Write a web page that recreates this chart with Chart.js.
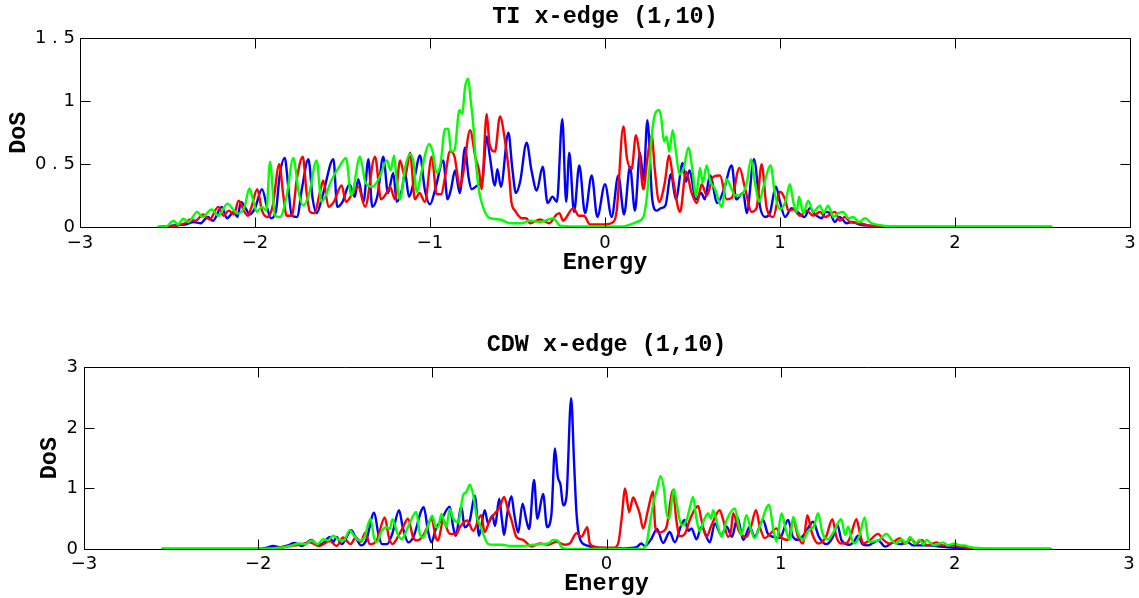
<!DOCTYPE html>
<html>
<head>
<meta charset="utf-8">
<script src="https://cdn.jsdelivr.net/npm/chart.js@4.4.1/dist/chart.umd.min.js"></script>
<style>
  html, body { margin: 0; padding: 0; background: #fff; }
  #wrap { position: relative; width: 1139px; height: 598px; }
  canvas { position: absolute; left: 0; }
</style>
</head>
<body>
<div id="wrap">
  <canvas id="top" width="1139" height="290" style="top:0"></canvas>
  <canvas id="bot" width="1139" height="308" style="top:290px"></canvas>
</div>
<script>
// ---------- tick labels ----------
const xTickValues = [-3, -2, -1, 0, 1, 2, 3];
const xTickLabels = ['\u22123', '\u22122', '\u22121', '0', '1', '2', '3'];
const tiYTickValues = [0, 0.5, 1, 1.5];
const tiYTickLabels = ['0', '0 . 5', '1', '1 . 5'];
const cdwYTickValues = [0, 1, 2, 3];
const cdwYTickLabels = ['0', '1', '2', '3'];

// ---------- TI x-edge (1,10): [energy, DoS] ----------
const tiBlue = [[-2.55,0],[-2.5,0.005],[-2.45,0.015],[-2.4,0.02],[-2.35,0.04],[-2.31,0.03],[-2.27,0.08],[-2.24,0.05],[-2.19,0.16],[-2.16,0.07],[-2.12,0.12],[-2.1,0.08],[-2.08,0.2],[-2.05,0.14],[-2.03,0.1],[-2.0,0.15],[-1.96,0.3],[-1.93,0.15],[-1.91,0.07],[-1.88,0.13],[-1.86,0.4],[-1.83,0.55],[-1.81,0.32],[-1.79,0.09],[-1.76,0.08],[-1.73,0.32],[-1.695,0.54],[-1.67,0.22],[-1.648,0.11],[-1.61,0.27],[-1.552,0.54],[-1.53,0.16],[-1.5,0.2],[-1.46,0.34],[-1.43,0.24],[-1.41,0.38],[-1.38,0.2],[-1.352,0.54],[-1.33,0.16],[-1.3,0.25],[-1.267,0.56],[-1.24,0.27],[-1.21,0.43],[-1.19,0.2],[-1.16,0.3],[-1.143,0.43],[-1.12,0.24],[-1.09,0.38],[-1.057,0.57],[-1.03,0.3],[-1.0,0.18],[-0.97,0.3],[-0.924,0.53],[-0.9,0.22],[-0.88,0.3],[-0.857,0.45],[-0.83,0.27],[-0.8,0.63],[-0.78,0.4],[-0.762,0.3],[-0.73,0.33],[-0.7,0.38],[-0.676,0.72],[-0.66,0.58],[-0.629,0.33],[-0.615,0.46],[-0.595,0.32],[-0.552,0.75],[-0.53,0.47],[-0.509,0.27],[-0.485,0.36],[-0.448,0.67],[-0.42,0.45],[-0.39,0.29],[-0.356,0.48],[-0.328,0.19],[-0.3,0.24],[-0.275,0.2],[-0.244,0.86],[-0.222,0.2],[-0.204,0.59],[-0.177,0.12],[-0.147,0.49],[-0.114,0.11],[-0.076,0.41],[-0.044,0.08],[0.0,0.34],[0.038,0.08],[0.076,0.41],[0.109,0.1],[0.143,0.48],[0.171,0.13],[0.2,0.59],[0.22,0.37],[0.242,0.85],[0.27,0.22],[0.295,0.13],[0.32,0.15],[0.345,0.17],[0.377,0.42],[0.405,0.22],[0.444,0.51],[0.463,0.36],[0.482,0.45],[0.52,0.22],[0.55,0.27],[0.57,0.22],[0.6,0.41],[0.642,0.19],[0.68,0.3],[0.724,0.49],[0.75,0.22],[0.79,0.27],[0.81,0.11],[0.851,0.54],[0.886,0.16],[0.914,0.08],[0.94,0.1],[0.977,0.32],[1.0,0.2],[1.029,0.08],[1.067,0.15],[1.1,0.12],[1.14,0.08],[1.171,0.15],[1.2,0.1],[1.238,0.07],[1.26,0.12],[1.286,0.11],[1.314,0.04],[1.34,0.08],[1.38,0.03],[1.41,0.04],[1.457,0.02],[1.514,0.01],[1.61,0.003],[2.0,0],[2.55,0]];

const tiRed = [[-2.55,0],[-2.5,0.005],[-2.45,0.01],[-2.4,0.03],[-2.37,0.06],[-2.34,0.05],[-2.295,0.1],[-2.26,0.06],[-2.21,0.16],[-2.18,0.09],[-2.15,0.13],[-2.12,0.1],[-2.094,0.21],[-2.06,0.12],[-2.04,0.09],[-2.02,0.16],[-1.987,0.3],[-1.96,0.13],[-1.93,0.08],[-1.9,0.16],[-1.861,0.5],[-1.84,0.27],[-1.819,0.09],[-1.79,0.09],[-1.76,0.39],[-1.727,0.56],[-1.705,0.27],[-1.686,0.12],[-1.66,0.11],[-1.63,0.27],[-1.61,0.37],[-1.58,0.16],[-1.55,0.2],[-1.505,0.33],[-1.48,0.2],[-1.44,0.27],[-1.41,0.32],[-1.371,0.16],[-1.314,0.56],[-1.28,0.22],[-1.24,0.29],[-1.229,0.32],[-1.2,0.22],[-1.171,0.53],[-1.143,0.4],[-1.114,0.59],[-1.086,0.22],[-1.06,0.27],[-1.029,0.2],[-0.99,0.56],[-0.962,0.26],[-0.935,0.26],[-0.914,0.4],[-0.886,0.6],[-0.86,0.56],[-0.829,0.32],[-0.81,0.43],[-0.771,0.77],[-0.74,0.55],[-0.72,0.45],[-0.705,0.3],[-0.676,0.9],[-0.66,0.66],[-0.629,0.6],[-0.6,0.88],[-0.575,0.72],[-0.55,0.45],[-0.535,0.2],[-0.514,0.13],[-0.476,0.07],[-0.45,0.07],[-0.429,0.03],[-0.371,0.06],[-0.32,0.03],[-0.276,0.1],[-0.26,0.11],[-0.24,0.05],[-0.181,0.15],[-0.15,0.09],[-0.12,0.09],[-0.086,0.02],[0.0,0.02],[0.048,0.04],[0.067,0.13],[0.105,0.8],[0.125,0.55],[0.152,0.46],[0.177,0.73],[0.195,0.6],[0.219,0.3],[0.245,0.58],[0.267,0.73],[0.285,0.45],[0.31,0.2],[0.34,0.34],[0.367,0.57],[0.39,0.37],[0.429,0.12],[0.463,0.44],[0.495,0.27],[0.524,0.19],[0.553,0.34],[0.581,0.25],[0.619,0.4],[0.657,0.41],[0.695,0.22],[0.724,0.23],[0.768,0.47],[0.8,0.31],[0.838,0.12],[0.866,0.15],[0.895,0.5],[0.924,0.15],[0.962,0.08],[1.0,0.28],[1.029,0.22],[1.048,0.13],[1.076,0.14],[1.114,0.09],[1.152,0.13],[1.19,0.09],[1.229,0.12],[1.257,0.08],[1.314,0.12],[1.343,0.05],[1.371,0.08],[1.4,0.04],[1.457,0.03],[1.514,0.01],[1.571,0.0],[2.55,0]];

const tiGreen = [[-2.55,0],[-2.5,0.01],[-2.467,0.05],[-2.44,0.02],[-2.41,0.066],[-2.38,0.04],[-2.33,0.12],[-2.3,0.08],[-2.248,0.14],[-2.21,0.09],[-2.157,0.186],[-2.12,0.13],[-2.1,0.106],[-2.06,0.16],[-2.032,0.306],[-2.01,0.21],[-1.99,0.12],[-1.96,0.16],[-1.935,0.13],[-1.914,0.52],[-1.886,0.09],[-1.857,0.08],[-1.82,0.24],[-1.781,0.55],[-1.75,0.27],[-1.724,0.17],[-1.69,0.27],[-1.648,0.53],[-1.62,0.2],[-1.59,0.27],[-1.57,0.35],[-1.514,0.49],[-1.48,0.55],[-1.45,0.25],[-1.4,0.56],[-1.37,0.36],[-1.33,0.32],[-1.29,0.39],[-1.246,0.53],[-1.225,0.45],[-1.205,0.57],[-1.19,0.36],[-1.171,0.22],[-1.143,0.47],[-1.114,0.58],[-1.095,0.52],[-1.076,0.28],[-1.05,0.43],[-1.029,0.57],[-1.005,0.66],[-0.985,0.6],[-0.962,0.43],[-0.94,0.5],[-0.914,0.78],[-0.895,0.78],[-0.88,0.6],[-0.86,0.61],[-0.832,0.93],[-0.815,0.9],[-0.8,1.11],[-0.781,1.18],[-0.77,1.04],[-0.752,0.8],[-0.74,0.55],[-0.724,0.33],[-0.71,0.22],[-0.686,0.12],[-0.657,0.07],[-0.6,0.06],[-0.543,0.03],[-0.476,0.03],[-0.429,0.05],[-0.37,0.04],[-0.295,0.07],[-0.276,0.04],[-0.257,0.01],[-0.2,0.004],[0.1,0.005],[0.181,0.04],[0.219,0.08],[0.235,0.19],[0.253,0.45],[0.267,0.72],[0.286,0.9],[0.31,0.93],[0.322,0.86],[0.337,0.68],[0.352,0.72],[0.367,0.6],[0.387,0.77],[0.405,0.6],[0.425,0.42],[0.45,0.47],[0.476,0.63],[0.5,0.45],[0.52,0.24],[0.543,0.47],[0.558,0.35],[0.581,0.49],[0.6,0.37],[0.629,0.3],[0.667,0.16],[0.695,0.38],[0.724,0.3],[0.743,0.25],[0.771,0.25],[0.81,0.35],[0.834,0.54],[0.857,0.35],[0.881,0.2],[0.905,0.32],[0.947,0.49],[0.97,0.27],[1.0,0.14],[1.03,0.2],[1.057,0.34],[1.076,0.2],[1.095,0.12],[1.109,0.24],[1.133,0.11],[1.162,0.21],[1.19,0.12],[1.229,0.17],[1.248,0.11],[1.276,0.17],[1.305,0.08],[1.333,0.11],[1.362,0.12],[1.39,0.07],[1.419,0.08],[1.45,0.04],[1.486,0.07],[1.524,0.03],[1.571,0.015],[1.65,0.005],[2.55,0.003]];

// ---------- CDW x-edge (1,10): [energy, DoS] ----------
const cdwBlue = [[-2.55,0],[-2.0,0],[-1.95,0.02],[-1.914,0.05],[-1.87,0.03],[-1.83,0.06],[-1.79,0.1],[-1.75,0.05],[-1.694,0.15],[-1.66,0.07],[-1.63,0.09],[-1.588,0.2],[-1.57,0.11],[-1.55,0.2],[-1.52,0.08],[-1.465,0.31],[-1.44,0.19],[-1.408,0.06],[-1.38,0.14],[-1.334,0.6],[-1.31,0.25],[-1.289,0.08],[-1.26,0.08],[-1.23,0.25],[-1.191,0.64],[-1.17,0.36],[-1.138,0.11],[-1.11,0.19],[-1.049,0.69],[-1.025,0.3],[-1.005,0.11],[-0.98,0.33],[-0.95,0.47],[-0.9,0.7],[-0.88,0.36],[-0.866,0.22],[-0.833,0.7],[-0.815,0.36],[-0.785,0.47],[-0.756,0.88],[-0.732,0.22],[-0.699,0.64],[-0.68,0.42],[-0.655,0.55],[-0.64,0.38],[-0.616,0.83],[-0.6,0.47],[-0.588,0.23],[-0.57,0.58],[-0.546,0.87],[-0.53,0.58],[-0.507,0.27],[-0.482,0.75],[-0.46,0.47],[-0.444,0.33],[-0.416,1.14],[-0.397,0.5],[-0.364,0.91],[-0.341,0.36],[-0.316,0.58],[-0.296,1.66],[-0.28,1.2],[-0.264,1.06],[-0.249,0.72],[-0.23,0.86],[-0.203,2.49],[-0.186,1.41],[-0.172,0.58],[-0.153,0.17],[-0.115,0.06],[-0.05,0.02],[0.1,0.01],[0.172,0.03],[0.2,0.09],[0.22,0.05],[0.258,0.17],[0.29,0.33],[0.325,0.1],[0.363,0.28],[0.392,0.11],[0.43,0.4],[0.449,0.48],[0.47,0.3],[0.488,0.34],[0.517,0.16],[0.545,0.37],[0.593,0.11],[0.622,0.42],[0.66,0.23],[0.69,0.37],[0.72,0.2],[0.752,0.52],[0.785,0.15],[0.823,0.37],[0.85,0.2],[0.899,0.48],[0.925,0.26],[0.957,0.2],[0.995,0.18],[1.043,0.48],[1.07,0.2],[1.1,0.15],[1.14,0.26],[1.186,0.45],[1.22,0.2],[1.262,0.08],[1.3,0.2],[1.325,0.4],[1.35,0.14],[1.397,0.07],[1.42,0.12],[1.444,0.22],[1.47,0.08],[1.5,0.06],[1.53,0.1],[1.56,0.14],[1.6,0.04],[1.65,0.11],[1.684,0.08],[1.73,0.11],[1.76,0.06],[1.85,0.06],[1.914,0.04],[2.0,0.02],[2.09,0.01],[2.2,0],[2.55,0]];

const cdwRed = [[-2.55,0],[-2.0,0],[-1.93,0.01],[-1.875,0.02],[-1.818,0.05],[-1.76,0.07],[-1.703,0.11],[-1.65,0.05],[-1.588,0.13],[-1.55,0.05],[-1.512,0.19],[-1.47,0.08],[-1.44,0.19],[-1.41,0.12],[-1.385,0.27],[-1.359,0.08],[-1.32,0.14],[-1.273,0.52],[-1.25,0.2],[-1.23,0.08],[-1.2,0.19],[-1.168,0.36],[-1.14,0.5],[-1.11,0.19],[-1.09,0.14],[-1.06,0.19],[-1.034,0.33],[-1.005,0.5],[-0.98,0.19],[-0.967,0.14],[-0.938,0.47],[-0.9,0.25],[-0.862,0.25],[-0.842,0.36],[-0.8,0.47],[-0.765,0.3],[-0.72,0.56],[-0.699,0.28],[-0.67,0.48],[-0.64,0.59],[-0.612,0.7],[-0.588,0.86],[-0.565,0.64],[-0.546,0.48],[-0.517,0.2],[-0.478,0.15],[-0.431,0.04],[-0.383,0.09],[-0.335,0.07],[-0.287,0.12],[-0.24,0.07],[-0.211,0.09],[-0.172,0.26],[-0.144,0.2],[-0.11,0.36],[-0.096,0.09],[-0.067,0.04],[-0.04,0.02],[0.04,0.02],[0.067,0.09],[0.086,0.48],[0.107,1.0],[0.13,0.61],[0.153,0.85],[0.172,0.74],[0.191,0.58],[0.21,0.34],[0.238,0.64],[0.267,0.95],[0.28,0.36],[0.302,0.27],[0.325,0.29],[0.345,0.37],[0.382,0.97],[0.4,0.5],[0.421,0.21],[0.45,0.25],[0.478,0.48],[0.526,0.71],[0.545,0.48],[0.574,0.2],[0.6,0.37],[0.65,0.64],[0.67,0.48],[0.698,0.2],[0.715,0.3],[0.727,0.59],[0.76,0.3],[0.803,0.2],[0.83,0.37],[0.858,0.64],[0.88,0.37],[0.909,0.18],[0.94,0.25],[0.976,0.34],[1.0,0.2],[1.043,0.15],[1.072,0.48],[1.1,0.2],[1.129,0.09],[1.153,0.56],[1.18,0.26],[1.215,0.09],[1.26,0.2],[1.297,0.49],[1.32,0.2],[1.348,0.09],[1.38,0.1],[1.4,0.2],[1.435,0.49],[1.455,0.26],[1.474,0.09],[1.51,0.14],[1.56,0.25],[1.59,0.15],[1.627,0.09],[1.66,0.14],[1.684,0.18],[1.71,0.09],[1.75,0.16],[1.78,0.09],[1.81,0.15],[1.84,0.06],[1.895,0.11],[1.93,0.06],[2.0,0.06],[2.03,0.04],[2.086,0.02],[2.15,0],[2.55,0]];

const cdwGreen = [[-2.55,0],[-2.1,0],[-2.0,0.005],[-1.93,0.01],[-1.875,0.02],[-1.818,0.05],[-1.761,0.09],[-1.73,0.08],[-1.694,0.14],[-1.66,0.08],[-1.626,0.16],[-1.6,0.14],[-1.569,0.22],[-1.54,0.16],[-1.51,0.14],[-1.474,0.31],[-1.445,0.2],[-1.416,0.14],[-1.39,0.19],[-1.355,0.5],[-1.335,0.19],[-1.32,0.11],[-1.29,0.3],[-1.263,0.36],[-1.245,0.33],[-1.229,0.49],[-1.2,0.25],[-1.177,0.16],[-1.14,0.36],[-1.092,0.61],[-1.072,0.25],[-1.052,0.19],[-1.035,0.3],[-1.0,0.55],[-0.98,0.36],[-0.967,0.36],[-0.948,0.58],[-0.92,0.36],[-0.9,0.66],[-0.88,0.5],[-0.852,0.44],[-0.823,0.89],[-0.805,0.94],[-0.785,1.06],[-0.765,0.89],[-0.745,0.53],[-0.727,0.4],[-0.708,0.25],[-0.679,0.08],[-0.64,0.07],[-0.6,0.07],[-0.55,0.05],[-0.5,0.05],[-0.44,0.06],[-0.383,0.08],[-0.335,0.09],[-0.306,0.15],[-0.28,0.14],[-0.258,0.03],[-0.23,0.0],[0.2,0.0],[0.229,0.08],[0.245,0.35],[0.258,0.58],[0.277,0.86],[0.287,0.95],[0.31,1.2],[0.33,0.99],[0.344,0.6],[0.36,0.5],[0.386,0.99],[0.405,0.72],[0.43,0.39],[0.46,0.48],[0.48,0.7],[0.497,0.86],[0.515,0.52],[0.536,0.29],[0.56,0.48],[0.584,0.59],[0.6,0.5],[0.612,0.64],[0.64,0.37],[0.66,0.2],[0.69,0.48],[0.737,0.67],[0.76,0.37],[0.775,0.23],[0.803,0.56],[0.83,0.31],[0.85,0.18],[0.88,0.37],[0.934,0.73],[0.955,0.37],[0.976,0.12],[1.005,0.59],[1.03,0.31],[1.052,0.15],[1.072,0.53],[1.1,0.26],[1.129,0.15],[1.16,0.31],[1.19,0.37],[1.215,0.59],[1.24,0.26],[1.27,0.16],[1.3,0.26],[1.348,0.49],[1.37,0.23],[1.387,0.37],[1.41,0.15],[1.425,0.09],[1.45,0.2],[1.483,0.52],[1.5,0.2],[1.512,0.12],[1.56,0.14],[1.608,0.25],[1.64,0.14],[1.66,0.09],[1.694,0.16],[1.72,0.09],[1.742,0.2],[1.77,0.09],[1.799,0.15],[1.82,0.07],[1.837,0.15],[1.88,0.06],[1.933,0.11],[1.96,0.06],[1.999,0.09],[2.03,0.06],[2.057,0.06],[2.086,0.03],[2.15,0.015],[2.3,0.005],[2.55,0.0]];

// ---------- helpers ----------
function pts(arr) { return arr.map(p => ({ x: p[0], y: p[1] })); }
function labelFor(values, labels) {
  return function (v) {
    for (let i = 0; i < values.length; i++) if (Math.abs(values[i] - v) < 1e-6) return labels[i];
    return '';
  };
}
function ds(arr, color, order) {
  return {
    data: pts(arr), borderColor: color, backgroundColor: color, borderWidth: 2.4,
    pointRadius: 0, fill: false, cubicInterpolationMode: 'monotone',
    borderJoinStyle: 'round', borderCapStyle: 'round', order: order
  };
}

const framePlugin = {
  id: 'frame',
  afterDatasetsDraw(chart) {
    const { ctx, chartArea: a, scales: { x, y } } = chart;
    const L = Math.round(a.left) + 0.5, R = Math.round(a.right) + 0.5;
    const T = Math.round(a.top) + 0.5, B = Math.round(a.bottom) + 0.5;
    const len = 10;
    ctx.save();
    ctx.strokeStyle = '#000';
    ctx.lineWidth = 1;
    ctx.beginPath();
    ctx.rect(L, T, R - L, B - T);
    x.ticks.forEach(t => {
      const px = Math.round(x.getPixelForValue(t.value)) + 0.5;
      ctx.moveTo(px, B); ctx.lineTo(px, B - len);
      ctx.moveTo(px, T); ctx.lineTo(px, T + len);
    });
    y.ticks.forEach(t => {
      const py = Math.round(y.getPixelForValue(t.value)) + 0.5;
      ctx.moveTo(L, py); ctx.lineTo(L + len, py);
      ctx.moveTo(R, py); ctx.lineTo(R - len, py);
    });
    ctx.stroke();
    ctx.restore();
  }
};

function makeChart(id, cfg) {
  const tickFont = { family: 'DejaVu Sans', size: 18 };
  const labFont = { family: 'Liberation Mono', size: 23.5, weight: 'bold', lineHeight: 1.2 };
  return new Chart(document.getElementById(id), {
    type: 'line',
    data: { datasets: [ds(cfg.green, '#00ff00', 0), ds(cfg.red, '#ff0000', 1), ds(cfg.blue, '#0000ff', 2)] },
    plugins: [framePlugin],
    options: {
      responsive: false, animation: false, events: [],
      layout: { padding: { left: 0, right: cfg.padRight, top: 0, bottom: 0 } },
      plugins: {
        legend: { display: false }, tooltip: { enabled: false },
        title: { display: true, text: cfg.title, fullSize: false, color: '#000', font: labFont, padding: cfg.titlePad }
      },
      scales: {
        x: {
          type: 'linear', min: -3, max: 3,
          grid: { display: false, drawTicks: false }, border: { display: false },
          ticks: { stepSize: 1, autoSkip: false, maxRotation: 0, color: '#000', font: tickFont, padding: cfg.xTickPad,
                   callback: labelFor(xTickValues, xTickLabels) },
          title: { display: true, text: 'Energy', color: '#000', font: labFont, padding: { top: 0, bottom: cfg.xTitlePadBottom } },
          afterFit(s) { s.height = cfg.xHeight; s.paddingLeft = 0; s.paddingRight = 0; }
        },
        y: {
          type: 'linear', min: cfg.yMin, max: cfg.yMax,
          grid: { display: false, drawTicks: false }, border: { display: false },
          ticks: { stepSize: cfg.yStep, autoSkip: false, color: '#000', font: tickFont, padding: cfg.yTickPad,
                   callback: labelFor(cfg.yVals, cfg.yLabels) },
          title: { display: true, text: 'DoS', color: '#000', font: labFont, padding: { top: cfg.yTitlePadTop, bottom: 0 } },
          afterFit(s) { s.width = cfg.yWidth; s.paddingTop = 0; s.paddingBottom = 0; }
        }
      }
    }
  });
}

makeChart('top', {
  title: 'TI x-edge (1,10)', blue: tiBlue, red: tiRed, green: tiGreen,
  yMin: 0, yMax: 1.5, yStep: 0.5, yVals: tiYTickValues, yLabels: tiYTickLabels,
  padRight: 9, titlePad: { top: 3, bottom: 7.2 }, xHeight: 63, xTickPad: 6, xTitlePadBottom: 13,
  yWidth: 80, yTickPad: 5, yTitlePadTop: 5
});
makeChart('bot', {
  title: 'CDW x-edge (1,10)', blue: cdwBlue, red: cdwRed, green: cdwGreen,
  yMin: 0, yMax: 3, yStep: 1, yVals: cdwYTickValues, yLabels: cdwYTickLabels,
  padRight: 10, titlePad: { top: 41, bottom: 8.1 }, xHeight: 49, xTickPad: 5, xTitlePadBottom: 0,
  yWidth: 84, yTickPad: 6, yTitlePadTop: 36
});
</script>
</body>
</html>
